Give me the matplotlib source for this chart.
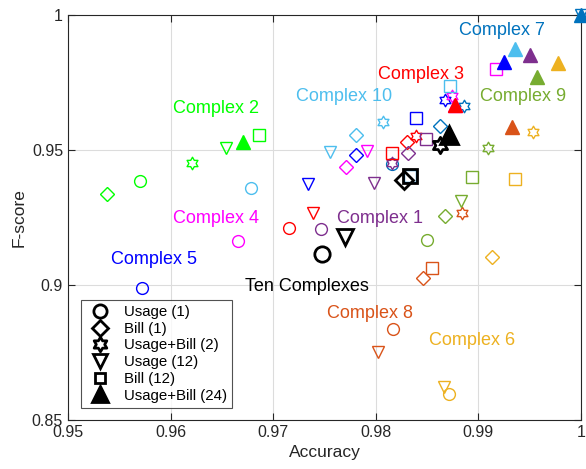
import numpy as np
import matplotlib
matplotlib.use("Agg")
import matplotlib.pyplot as plt
from matplotlib.path import Path
from matplotlib.lines import Line2D

plt.rcParams['font.family'] = ['Liberation Sans', 'DejaVu Sans']

groups = ["Complex 1", "Complex 2", "Complex 3", "Complex 4", "Complex 5",
          "Complex 6", "Complex 7", "Complex 8", "Complex 9", "Complex 10",
          "Ten Complexes"]
colors = ['#7E2F8E', '#00FF00', '#FF0000', '#FF00FF', '#0000FF',
          '#EDB120', '#0072BD', '#D95319', '#77AC30', '#4DBEEE', '#000000']

feature_sets = ["Usage (1)", "Bill (1)", "Usage+Bill (2)",
                "Usage (12)", "Bill (12)", "Usage+Bill (24)"]

usage1_acc = [0.9747, 0.9570, 0.9715, 0.9666, 0.9572, 0.9871, 0.9816, 0.9817, 0.9850, 0.9678, 0.9748]
usage1_f   = [0.9207, 0.9385, 0.9211, 0.9163, 0.8989, 0.8596, 0.9448, 0.8836, 0.9167, 0.9361, 0.9115]

bill1_acc = [0.9831, 0.9538, 0.9830, 0.9771, 0.9781, 0.9913, 0.9863, 0.9846, 0.9867, 0.9781, 0.9827]
bill1_f   = [0.9489, 0.9337, 0.9530, 0.9437, 0.9481, 0.9103, 0.9589, 0.9025, 0.9257, 0.9556, 0.9389]

ub2_acc = [0.9816, 0.9621, 0.9839, 0.9874, 0.9867, 0.9953, 0.9886, 0.9884, 0.9909, 0.9807, 0.9863]
ub2_f   = [0.9452, 0.9452, 0.9552, 0.9700, 0.9685, 0.9568, 0.9663, 0.9266, 0.9506, 0.9603, 0.9519]

usage12_acc = [0.9798, 0.9654, 0.9739, 0.9791, 0.9734, 0.9866, 1.0000, 0.9802, 0.9883, 0.9755, 0.9770]
usage12_f   = [0.9378, 0.9507, 0.9268, 0.9496, 0.9374, 0.8621, 1.0000, 0.8751, 0.9311, 0.9494, 0.9177]

bill12_acc = [0.9849, 0.9686, 0.9816, 0.9917, 0.9839, 0.9936, 0.9833, 0.9855, 0.9894, 0.9872, 0.9833]
bill12_f   = [0.9541, 0.9556, 0.9489, 0.9800, 0.9617, 0.9392, 0.9404, 0.9062, 0.9399, 0.9737, 0.9404]

ub24_acc = [0.9950, 0.9671, 0.9877, 0.9877, 0.9925, 0.9978, 1.0000, 0.9933, 0.9957, 0.9936, 0.9871]
ub24_f   = [0.9852, 0.9530, 0.9667, 0.9667, 0.9826, 0.9822, 1.0000, 0.9585, 0.9770, 0.9874, 0.9556]

label_x = [0.9762, 0.9602, 0.9802, 0.9602, 0.9542, 0.9852, 0.9881, 0.9752, 0.9902, 0.9722, 0.9673]
label_y = [0.9247, 0.9652, 0.9778, 0.9247, 0.9095, 0.8796, 0.9944, 0.8895, 0.9697, 0.9697, 0.8994]

hexagram = Path.unit_regular_star(6, 1/np.sqrt(3))

fig = plt.figure(figsize=(5.86, 4.69), dpi=100)
ax = fig.add_axes([0.116, 0.1045, 0.8755, 0.8635])

series = [
    (usage1_acc, usage1_f, 'o', 8.5, False),
    (bill1_acc, bill1_f, 'D', 7.0, False),
    (ub2_acc, ub2_f, hexagram, 9.0, False),
    (usage12_acc, usage12_f, 'v', 9.0, False),
    (bill12_acc, bill12_f, 's', 8.0, False),
    (ub24_acc, ub24_f, '^', 10.0, True),
]

# draw groups from last to first so earlier complexes sit on top; black on top of all
for k, (acc, f, mk, ms, filled) in enumerate(series):
    for i in reversed(range(len(groups))):
        c = colors[i]
        big = (i == len(groups) - 1)
        size = ms * (1.3 if big else 1.0)
        lw = 2.0 if big else 1.0
        ax.plot(acc[i], f[i], linestyle='none', marker=mk, markersize=size,
                markeredgecolor=c, markerfacecolor=c if filled else 'none',
                markeredgewidth=lw, clip_on=False, zorder=3.5 if big else 3)

for i, g in enumerate(groups):
    ax.text(label_x[i], label_y[i], g, color=colors[i], fontsize=13,
            ha='left', va='center', zorder=4)

ax.set_xlim(0.95, 1.0)
ax.set_ylim(0.85, 1.0)
ax.set_xticks([0.95, 0.96, 0.97, 0.98, 0.99, 1.0])
ax.set_xticklabels(['0.95', '0.96', '0.97', '0.98', '0.99', '1'])
ax.set_yticks([0.85, 0.9, 0.95, 1.0])
ax.set_yticklabels(['0.85', '0.9', '0.95', '1'])
ax.grid(True, color='#dcdcdc', linewidth=0.8)
ax.set_axisbelow(True)
ax.tick_params(direction='in', top=True, right=True, labelsize=11.5,
               colors='#262626', length=5, width=0.8)
for s in ax.spines.values():
    s.set_color('#262626')
    s.set_linewidth(0.8)
ax.set_xlabel('Accuracy', fontsize=12.5, color='#262626')
ax.set_ylabel('F-score', fontsize=12.5, color='#262626')

handles = []
for mk, ms, filled in [('o', 9.5, False), ('D', 8.5, False), (hexagram, 10.5, False),
                       ('v', 10.5, False), ('s', 7.5, False), ('^', 11.5, True)]:
    handles.append(Line2D([], [], linestyle='none', marker=mk, markersize=ms,
                          markeredgecolor='k', markerfacecolor='k' if filled else 'none',
                          markeredgewidth=2.0))
leg = ax.legend(handles, feature_sets, loc='lower left', bbox_to_anchor=(0.025, 0.03),
                fontsize=10.8, frameon=True, fancybox=False, edgecolor='#262626',
                borderpad=0.35, labelspacing=0.18, handletextpad=0.6, handlelength=1.9,
                borderaxespad=0)
leg.get_frame().set_linewidth(0.8)
leg.set_zorder(5)

fig.savefig('out.png', dpi=100)
